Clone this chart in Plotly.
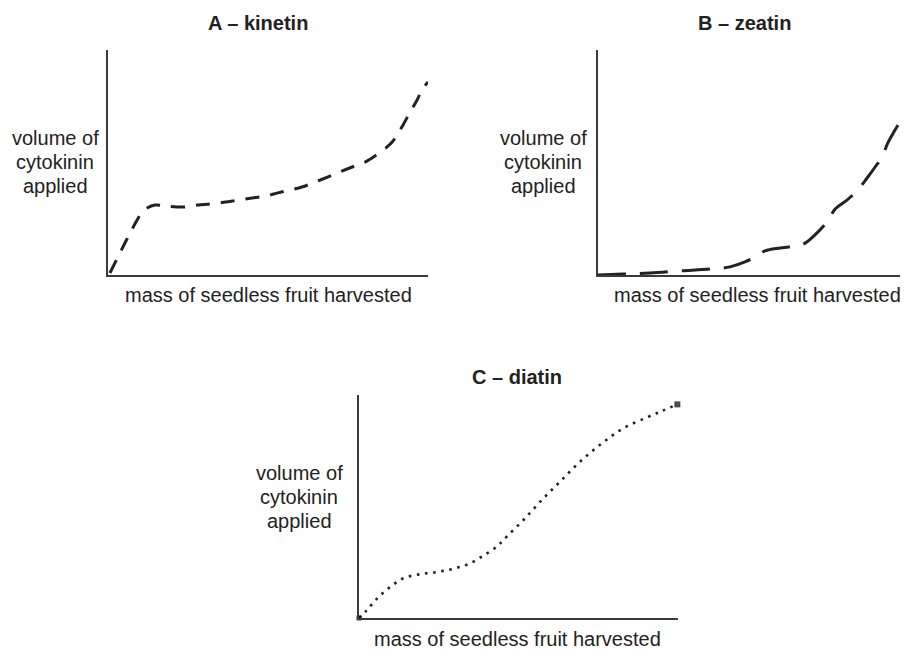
import plotly.graph_objects as go

# ---- data (arbitrary units, 0-10 on both axes of each sketch) ----
A_title = "A – kinetin"
A_x = [0.06, 0.31, 0.53, 0.69, 0.91, 1.06, 1.22, 1.47, 1.78, 2.34, 2.81, 3.19, 3.66, 4.06,
       4.50, 4.91, 5.28, 5.69, 6.06, 6.47, 6.88, 7.25, 7.63, 8.03, 8.34, 8.72, 8.88, 9.03,
       9.22, 9.44, 9.66, 9.81, 10.0]
A_y = [0.09, 0.80, 1.42, 1.87, 2.44, 2.80, 2.98, 3.11, 3.07, 3.02, 3.11, 3.16, 3.24, 3.33,
       3.42, 3.51, 3.64, 3.78, 3.91, 4.13, 4.36, 4.58, 4.80, 5.02, 5.29, 5.69, 5.91, 6.22,
       6.67, 7.24, 7.78, 8.22, 8.58]

B_title = "B – zeatin"
B_x = [0.0, 0.81, 1.68, 2.65, 3.68, 4.26, 4.74, 5.06, 5.39, 5.87, 6.35, 6.68, 7.00, 7.39,
       7.65, 8.03, 8.35, 8.68, 8.94, 9.16, 9.35, 9.58, 9.81, 10.0]
B_y = [0.0, 0.04, 0.09, 0.18, 0.27, 0.36, 0.58, 0.80, 1.07, 1.20, 1.29, 1.42, 1.78, 2.36,
       2.93, 3.33, 3.73, 4.31, 4.80, 5.24, 5.87, 6.44, 6.98, 7.64]

C_title = "C – diatin"
C_x = [0.0, 0.22, 0.57, 0.97, 1.39, 1.91, 2.44, 2.94, 3.43, 3.88, 4.32, 4.63, 5.15, 5.73,
       6.30, 6.93, 7.64, 8.29, 9.00, 9.49, 9.98]
C_y = [0.0, 0.31, 0.88, 1.38, 1.78, 1.96, 2.06, 2.20, 2.42, 2.78, 3.20, 3.65, 4.39, 5.29,
       6.11, 7.01, 7.86, 8.51, 8.98, 9.28, 9.58]

y_label_lines = ["volume of", "cytokinin", "applied"]
x_label = "mass of seedless fruit harvested"

# page body has an 8px margin; lay out in reference pixels and shift
OFF = 8
W, H = 908 - OFF, 649 - OFF
FONT = "Liberation Sans, Arial, Helvetica, sans-serif"
INK = "#222222"
AXIS = "#3a3a3a"
FS = 20

fig = go.Figure()

fig.add_trace(go.Scatter(x=A_x, y=A_y, mode="lines", xaxis="x", yaxis="y",
                         line=dict(color=INK, width=3, dash="14px,11px", shape="spline"),
                         showlegend=False, hoverinfo="skip"))
fig.add_trace(go.Scatter(x=B_x, y=B_y, mode="lines", xaxis="x2", yaxis="y2",
                         line=dict(color=INK, width=3, dash="28px,14px", shape="spline"),
                         showlegend=False, hoverinfo="skip"))
fig.add_trace(go.Scatter(x=C_x, y=C_y, mode="lines", xaxis="x3", yaxis="y3",
                         line=dict(color=INK, width=2.6, dash="2.6px,5.6px", shape="spline"),
                         showlegend=False, hoverinfo="skip"))
fig.add_trace(go.Scatter(x=[C_x[0], C_x[-1]], y=[C_y[0], C_y[-1]], mode="markers",
                         xaxis="x3", yaxis="y3", cliponaxis=False,
                         marker=dict(symbol="square", size=[5, 6], color="#000000",
                                     line=dict(width=0)),
                         showlegend=False, hoverinfo="skip"))


def px_dom(a, b):
    return [(a - OFF) / W, min(1.0, (b - OFF) / W)]


def py_dom(top, bottom):
    return [1 - (bottom - OFF) / H, 1 - (top - OFF) / H]


ax_common = dict(range=[0, 10], showline=True, linecolor=AXIS, linewidth=2,
                 showgrid=False, zeroline=False, showticklabels=False, ticks="",
                 fixedrange=True)

fig.update_layout(
    width=W, height=H,
    margin=dict(l=0, r=0, t=0, b=0),
    paper_bgcolor="white", plot_bgcolor="white",
    font=dict(family=FONT, color=INK, size=FS),
    xaxis=dict(domain=px_dom(108, 428), anchor="y", **ax_common),
    yaxis=dict(domain=py_dom(50, 275), anchor="x", **ax_common),
    xaxis2=dict(domain=px_dom(598, 908), anchor="y2", **ax_common),
    yaxis2=dict(domain=py_dom(50, 275), anchor="x2", **ax_common),
    xaxis3=dict(domain=px_dom(359, 678), anchor="y3", **ax_common),
    yaxis3=dict(domain=py_dom(395, 618), anchor="x3", **ax_common),
)


def ann(text, x, y, bold=False):
    fig.add_annotation(text=f"<b>{text}</b>" if bold else text,
                       x=(x - OFF) / W, y=1 - (y - OFF) / H, xref="paper", yref="paper",
                       xanchor="center", yanchor="middle", showarrow=False,
                       align="center", font=dict(family=FONT, size=FS, color=INK))


# titles
ann(A_title, 258, 23, bold=True)
ann(B_title, 744, 23, bold=True)
ann(C_title, 517, 377, bold=True)
# y labels (one annotation per line, 24px apart)
for cx, cy in [(55, 162), (543, 162), (299, 497)]:
    for i, line in enumerate(y_label_lines):
        ann(line, cx, cy + (i - 1) * 24)
# x labels
ann(x_label, 268, 295)
ann(x_label, 757, 295)
ann(x_label, 517, 639)

fig.write_html("out.html")
